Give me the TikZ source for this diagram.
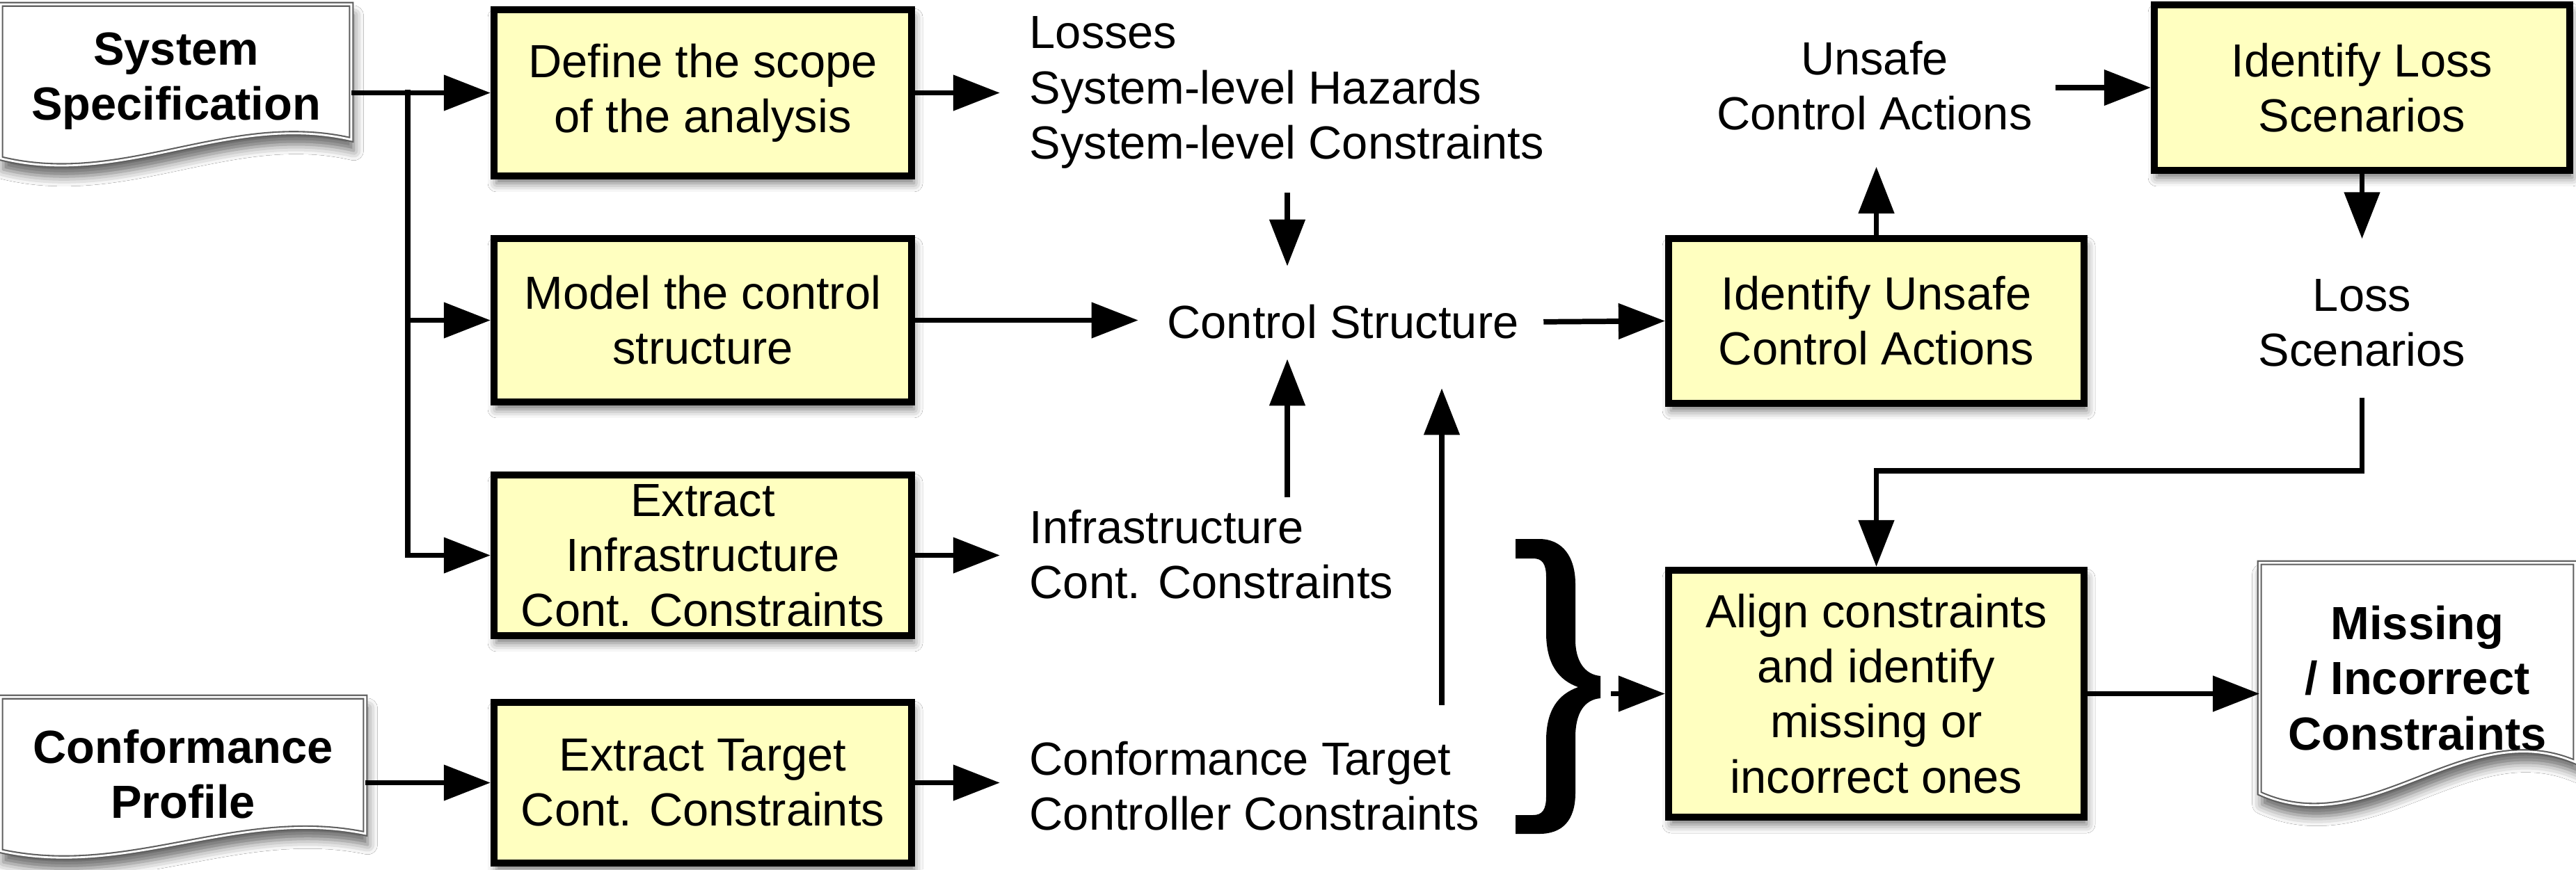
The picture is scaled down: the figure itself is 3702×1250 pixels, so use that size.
\documentclass[tikz,border=0pt]{standalone}
\usepackage{fontspec}
\setmainfont{Liberation Sans}
\usetikzlibrary{arrows.meta,calc,shadows.blur,backgrounds}

\definecolor{boxfill}{RGB}{255,255,192}
\definecolor{docline}{RGB}{95,95,95}

\tikzset{
  every node/.style={font=\fontsize{19pt}{22.5pt}\selectfont},
  stepbox/.style={draw=black, line width=2.8pt, fill=boxfill, align=center, inner sep=0pt,
    blur shadow={shadow xshift=1pt, shadow yshift=-3pt, shadow blur radius=3.5pt, shadow opacity=55}},
  docnode/.style={align=center, inner sep=0pt, font=\fontsize{19pt}{22.5pt}\selectfont\bfseries},
  outtext/.style={inner sep=0pt},
  arr/.style={line width=2.2pt, -{Triangle[length=0.67cm,width=0.5cm]}},
  docedge/.style={draw=docline, line width=0.6pt, double=white, double distance=0.8pt, fill=white,
    blur shadow={shadow xshift=1pt, shadow yshift=-4.5pt, shadow blur radius=4pt, shadow opacity=60}},
}

% document symbol: flat top, wavy bottom; #2 = how far the right end sits above the lower left corner
\newcommand{\docoutline}[2]{%
  \path[docedge] (#1.north west) -- (#1.north east) -- ($(#1.south east)+(0,-#2)$)
    .. controls ($(#1.south west)!0.65!(#1.south east)+(0,-2.5*#2)$)
           and ($(#1.south west)!0.35!(#1.south east)+(0,1.6*#2)$) .. (#1.south west) -- cycle;}

\begin{document}
\begin{tikzpicture}[x=0.01cm, y=-0.01cm]
  \useasboundingbox (0,0) rectangle (3702,1250);

  % input and output documents
  \node[docnode, minimum width=5.02cm, minimum height=2.2cm] (sysspec) at (253,117) {System\\Specification};
  \node[docnode, minimum width=5.22cm, minimum height=2.2cm] (conf) at (263,1113) {Conformance\\Profile};
  \node[docnode, minimum width=4.52cm, minimum height=3.3cm] (missing) at (3474,975) {Missing\\/ Incorrect\\Constraints};

  % process steps
  \node[stepbox, minimum width=6cm, minimum height=2.39cm] (define) at (1010,133.5) {Define the scope\\of the analysis};
  \node[stepbox, minimum width=6cm, minimum height=2.35cm] (model) at (1010,460.5) {Model the control\\structure};
  \node[stepbox, minimum width=6cm, minimum height=2.31cm] (infra) at (1010,798.5) {Extract\\Infrastructure\\Cont. Constraints};
  \node[stepbox, minimum width=6cm, minimum height=2.31cm] (target) at (1010,1125.5) {Extract Target\\Cont. Constraints};
  \node[stepbox, minimum width=5.97cm, minimum height=2.37cm] (idunsafe) at (2696.5,461.5) {Identify Unsafe\\Control Actions};
  \node[stepbox, minimum width=5.97cm, minimum height=2.38cm] (idloss) at (3394.5,126) {Identify Loss\\Scenarios};
  \node[stepbox, minimum width=5.97cm, minimum height=3.55cm] (align) at (2696.5,997.5) {Align constraints\\and identify\\missing or\\incorrect ones};

  % intermediate results
  \node[outtext, anchor=west, align=left] (scopeout) at (1479,133) {Losses\\System-level Hazards\\System-level Constraints};
  \node[outtext] (cs) at (1930,463) {Control Structure};
  \node[outtext, anchor=west, align=left] (infraout) at (1479,797) {Infrastructure\\Cont. Constraints};
  \node[outtext, anchor=west, align=left] (targetout) at (1479,1130) {Conformance Target\\Controller Constraints};
  \node[outtext, align=center] (ucaout) at (2694,123) {Unsafe\\Control Actions};
  \node[outtext, align=center] (lossout) at (3394.5,464) {Loss\\Scenarios};

  % helper points for the routed connectors
  \coordinate (split) at (586,129);
  \coordinate (colA) at (1850,0);
  \coordinate (colB) at (2072,0);
  \coordinate (bend) at (0,677);
  \coordinate (bracetip) at (2298,988);

  \begin{scope}[on background layer]
    \fill[white] (0,0) rectangle (3702,1250);
    \docoutline{sysspec}{27}
    \docoutline{conf}{25}
    \docoutline{missing}{45}
  \end{scope}

  % brace gathering the two constraint sets
  \fill[black] (2178,775) -- (2212,775) .. controls (2245,775) and (2264,800) .. (2264,840)
    -- (2264,920) .. controls (2264,950) and (2277,970) .. (2300,972)
    -- (2300,1004) .. controls (2277,1006) and (2264,1025) .. (2264,1060)
    -- (2264,1140) .. controls (2264,1180) and (2245,1199) .. (2212,1199)
    -- (2178,1199) -- (2178,1172) -- (2203,1172) .. controls (2216,1172) and (2222,1165) .. (2222,1145)
    -- (2222,1065) .. controls (2222,1020) and (2240,998) .. (2268,988)
    .. controls (2240,978) and (2222,955) .. (2222,910)
    -- (2222,830) .. controls (2222,810) and (2216,803) .. (2203,803) -- (2178,803) -- cycle;

  % connectors
  \draw[arr] (sysspec.east |- define.west) -- (define.west);
  \draw[arr] (split) |- (model.west);
  \draw[arr] (split) |- (infra.west);
  \draw[arr] (conf.east |- target.west) -- (target.west);

  \draw[arr, shorten >=0.42cm] (define.east) -- (define.east -| scopeout.west);
  \draw[arr, shorten >=0.42cm] (infra.east) -- (infra.east -| infraout.west);
  \draw[arr, shorten >=0.42cm] (target.east) -- (target.east -| targetout.west);
  \draw[arr, shorten >=0.41cm] (model.east) -- (model.east -| cs.west);
  \draw[arr, shorten <=0.35cm] (cs.east) -- (idunsafe.west);

  \draw[arr, shorten <=0.34cm, shorten >=0.55cm] (scopeout.south -| colA) -- (cs.north -| colA);
  \draw[arr, shorten <=0.17cm, shorten >=0.28cm] (infraout.north -| colA) -- (cs.south -| colA);
  \draw[arr, shorten <=0.51cm, shorten >=0.70cm] (targetout.north -| colB) -- (cs.south -| colB);

  \draw[arr, shorten >=0.52cm] (idunsafe.north) -- (idunsafe.north |- ucaout.south);
  \draw[arr, shorten <=0.33cm] (ucaout.east |- idloss.west) -- (idloss.west);
  \draw[arr, shorten >=0.57cm] (idloss.south) -- (idloss.south |- lossout.north);
  \draw[arr, shorten <=0.44cm] (lossout.south) -- (lossout.south |- bend) -- (align.north |- bend) -- (align.north);

  \draw[arr] ($(bracetip |- align.west)+(17,0)$) -- (align.west);
  \draw[arr] (align.east) -- (align.east -| missing.west);
\end{tikzpicture}
\end{document}
